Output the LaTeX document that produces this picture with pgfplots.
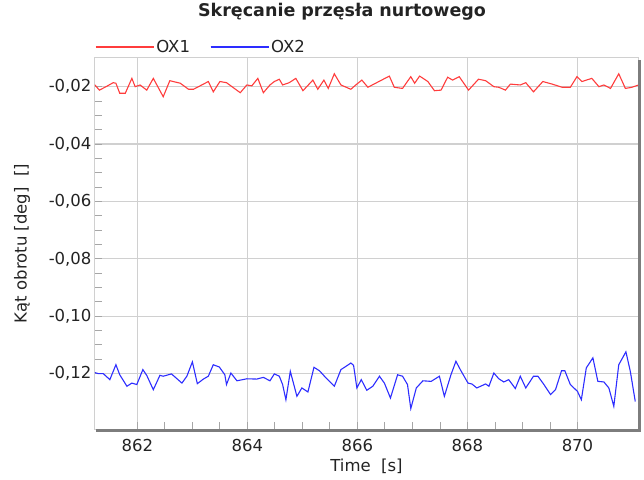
\documentclass[border=0pt]{standalone}
\usepackage{fontspec}
\setmainfont{DejaVu Sans}
\usepackage{pgfplots}
\pgfplotsset{compat=1.18}
\definecolor{gridc}{RGB}{208,208,208}
\definecolor{framec}{RGB}{125,125,125}
\definecolor{ox1}{RGB}{255,60,60}
\definecolor{ox2}{RGB}{45,45,255}
\definecolor{txt}{RGB}{35,35,35}

\begin{document}
\begin{tikzpicture}
\useasboundingbox (-95pt,-50pt) rectangle (549pt,429pt);
\begin{axis}[
    name=ax,
    scale only axis,
    width=543pt, height=371pt,
    xmin=861.23, xmax=871.1,
    ymin=-0.1393, ymax=-0.01,
    xtick={862,864,866,868,870},
    ytick={-0.12,-0.1,-0.08,-0.06,-0.04,-0.02},
    minor x tick num=3, minor y tick num=3,
    tick align=inside, tick pos=left,
    major tick length=7pt, minor tick length=7pt,
    tick style={gray!70, line width=0.9pt},
    grid=major,
    major grid style={gridc, line width=1.2pt},
    axis line style={gridc, line width=1pt},
    font=\fontsize{16.5}{19}\selectfont,
    every tick label/.append style={text=txt},
    /pgf/number format/assume math mode=true,
    yticklabel style={/pgf/number format/.cd, fixed, fixed zerofill, precision=2, use comma},
    xticklabel style={yshift=-7pt},
    title={Skręcanie przęsła nurtowego},
    title style={font=\fontsize{17.5}{20}\selectfont\bfseries, text=txt,
                 at={(axis description cs:0.455,1.108)}, anchor=center},
    xlabel={Time\ \ [s]},
    xlabel style={text=txt, at={(axis description cs:0.5,-0.0997)}, anchor=center},
    ylabel={Kąt obrotu [deg]\ \ []},
    ylabel style={text=txt, at={(axis description cs:-0.1344,0.5)}, anchor=center},
    legend columns=2,
    legend style={draw=none, fill=none, inner sep=0pt, text=txt,
                  at={(axis description cs:0,1.0296)}, anchor=west,
                  /tikz/every even column/.append style={column sep=18pt}},
    legend image code/.code={\draw[#1] (0pt,0pt) -- (53pt,0pt); \path (0pt,0pt) -- (58pt,0pt);},
]
\addplot[ox1, line width=1.1pt] coordinates {
(861.20,-0.0188) (861.31,-0.0212) (861.44,-0.0199) (861.56,-0.0186) (861.61,-0.0188)
(861.68,-0.0223) (861.78,-0.0223) (861.90,-0.0171) (861.96,-0.0200) (862.05,-0.0194)
(862.17,-0.0212) (862.29,-0.0171) (862.47,-0.0235) (862.59,-0.0179) (862.78,-0.0188)
(862.93,-0.0209) (863.02,-0.0209) (863.29,-0.0182) (863.38,-0.0218) (863.50,-0.0182)
(863.62,-0.0186) (863.87,-0.0221) (863.99,-0.0194) (864.08,-0.0197) (864.19,-0.0171)
(864.29,-0.0221) (864.41,-0.0194) (864.49,-0.0182) (864.58,-0.0174) (864.64,-0.0194)
(864.76,-0.0186) (864.88,-0.0171) (865.01,-0.0214) (865.19,-0.0177) (865.28,-0.0209)
(865.39,-0.0177) (865.47,-0.0206) (865.58,-0.0155) (865.70,-0.0194) (865.88,-0.0209)
(865.97,-0.0194) (866.08,-0.0177) (866.19,-0.0202) (866.58,-0.0163) (866.67,-0.0202)
(866.82,-0.0206) (866.97,-0.0165) (867.04,-0.0188) (867.13,-0.0163) (867.28,-0.0182)
(867.40,-0.0214) (867.52,-0.0212) (867.64,-0.0167) (867.73,-0.0177) (867.85,-0.0165)
(868.02,-0.0212) (868.20,-0.0174) (868.33,-0.0179) (868.48,-0.0200) (868.57,-0.0202)
(868.69,-0.0212) (868.78,-0.0191) (868.96,-0.0194) (869.06,-0.0186) (869.20,-0.0218)
(869.37,-0.0182) (869.54,-0.0191) (869.72,-0.0202) (869.87,-0.0202) (869.99,-0.0165)
(870.08,-0.0182) (870.26,-0.0171) (870.39,-0.0200) (870.48,-0.0194) (870.60,-0.0206)
(870.75,-0.0155) (870.87,-0.0206) (870.99,-0.0202) (871.11,-0.0194)
};
\addplot[ox2, line width=1.1pt] coordinates {
(861.20,-0.1195) (861.29,-0.1200) (861.38,-0.1200) (861.50,-0.1221) (861.61,-0.1169)
(861.68,-0.1204) (861.81,-0.1244) (861.90,-0.1233) (861.99,-0.1238) (862.10,-0.1186)
(862.17,-0.1206) (862.29,-0.1256) (862.41,-0.1206) (862.47,-0.1209) (862.62,-0.1201)
(862.81,-0.1233) (862.90,-0.1209) (863.00,-0.1159) (863.09,-0.1235) (863.20,-0.1219)
(863.29,-0.1209) (863.38,-0.1169) (863.49,-0.1177) (863.59,-0.1204) (863.62,-0.1238)
(863.70,-0.1198) (863.81,-0.1225) (863.99,-0.1218) (864.17,-0.1219) (864.29,-0.1213)
(864.41,-0.1225) (864.49,-0.1201) (864.58,-0.1209) (864.64,-0.1238) (864.70,-0.1291)
(864.78,-0.1192) (864.90,-0.1279) (864.99,-0.1250) (865.10,-0.1264) (865.21,-0.1178)
(865.31,-0.1190) (865.40,-0.1209) (865.58,-0.1244) (865.70,-0.1186) (865.82,-0.1171)
(865.88,-0.1163) (865.93,-0.1171) (865.99,-0.1250) (866.07,-0.1221) (866.17,-0.1258)
(866.28,-0.1244) (866.40,-0.1209) (866.49,-0.1233) (866.60,-0.1285) (866.73,-0.1204)
(866.82,-0.1209) (866.91,-0.1238) (866.97,-0.1322) (867.07,-0.1250) (867.19,-0.1225)
(867.34,-0.1227) (867.49,-0.1209) (867.58,-0.1279) (867.70,-0.1204) (867.79,-0.1157)
(867.87,-0.1186) (868.01,-0.1233) (868.08,-0.1236) (868.17,-0.1250) (868.33,-0.1236)
(868.39,-0.1244) (868.48,-0.1198) (868.57,-0.1218) (868.66,-0.1229) (868.75,-0.1221)
(868.87,-0.1252) (868.96,-0.1209) (869.06,-0.1250) (869.20,-0.1209) (869.28,-0.1209)
(869.39,-0.1238) (869.51,-0.1273) (869.60,-0.1256) (869.71,-0.1190) (869.77,-0.1190)
(869.87,-0.1238) (870.00,-0.1262) (870.07,-0.1291) (870.16,-0.1180) (870.28,-0.1145)
(870.37,-0.1227) (870.48,-0.1229) (870.57,-0.1250) (870.66,-0.1314) (870.75,-0.1169)
(870.88,-0.1124) (870.96,-0.1192) (871.05,-0.1297)
};
\legend{OX1, OX2}
\end{axis}
% shadowed right and bottom frame
\draw[framec, line width=2.6pt]
  ([xshift=1pt,yshift=-1.3pt]ax.south west) -- ([xshift=1.3pt,yshift=-1.3pt]ax.south east)
  -- ([xshift=1.3pt,yshift=-2pt]ax.north east);
\end{tikzpicture}
\end{document}
